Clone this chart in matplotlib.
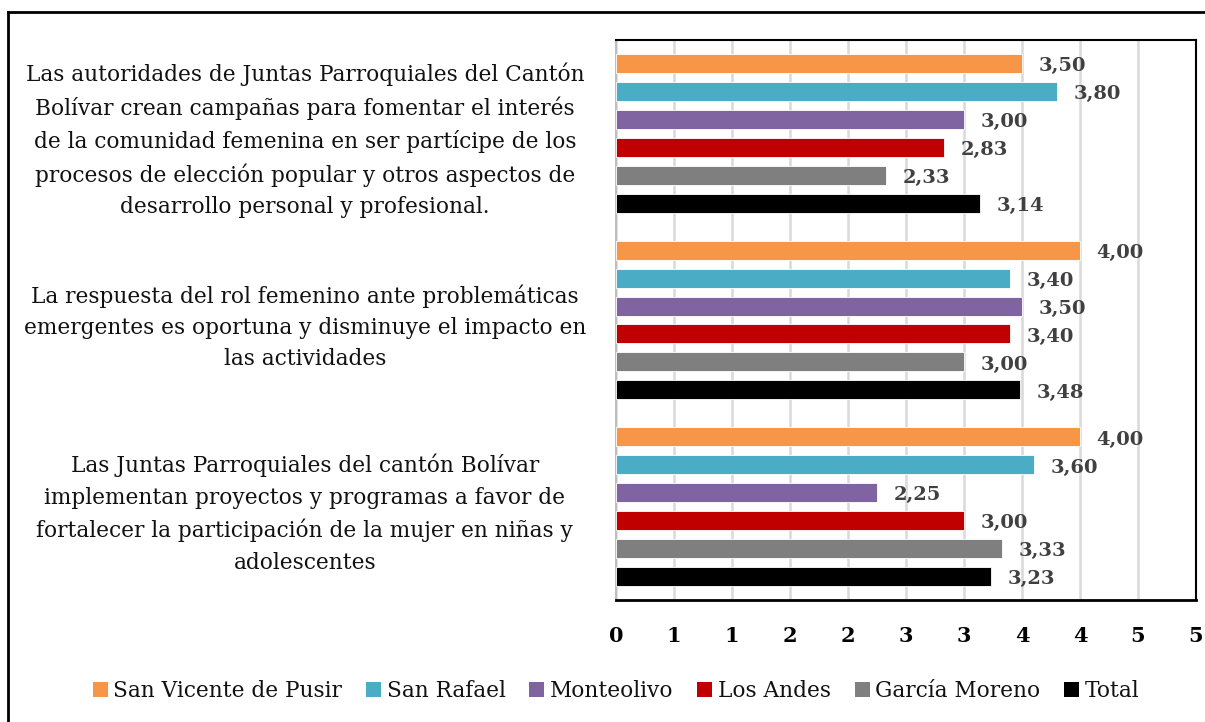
import matplotlib.pyplot as plt
from matplotlib.lines import Line2D
from matplotlib.patches import Patch
import numpy as np

# Data
categories = [
    "Las autoridades de Juntas Parroquiales del Cantón\nBolívar crean campañas para fomentar el interés\n"
    "de la comunidad femenina en ser partícipe de los\nprocesos de elección popular y otros aspectos de\n"
    "desarrollo personal y profesional.",
    "La respuesta del rol femenino ante problemáticas\nemergentes es oportuna y disminuye el impacto en\n"
    "las actividades",
    "Las Juntas Parroquiales del cantón Bolívar\nimplementan proyectos y programas a favor de\n"
    "fortalecer la participación de la mujer en niñas y\nadolescentes",
]
series = ["San Vicente de Pusir", "San Rafael", "Monteolivo", "Los Andes", "García Moreno", "Total"]
san_vicente = [3.50, 4.00, 4.00]
san_rafael = [3.80, 3.40, 3.60]
monteolivo = [3.00, 3.50, 2.25]
los_andes = [2.83, 3.40, 3.00]
garcia_moreno = [2.33, 3.00, 3.33]
total = [3.14, 3.48, 3.23]
values = [san_vicente, san_rafael, monteolivo, los_andes, garcia_moreno, total]
colors = ["#F79646", "#4BACC6", "#8064A2", "#C00000", "#7F7F7F", "#000000"]
xticks = np.arange(0, 5.01, 0.5)
xtick_labels = ["0", "1", "1", "2", "2", "3", "3", "4", "4", "5", "5"]

plt.rcParams['font.family'] = 'DejaVu Serif'

W, H = 1205, 722
fig = plt.figure(figsize=(W / 100, H / 100), dpi=100)
ax = fig.add_axes([616 / W, 1 - 600 / H, (1196 - 616) / W, 560 / H])

slot = 28 / 187
bar_h = 19 / 187
for j, (name, vals, c) in enumerate(zip(series, values, colors)):
    ys = np.arange(len(categories)) + (j - 2.5) * slot
    ax.barh(ys, vals, height=bar_h, color=c, edgecolor='white', linewidth=0.6, zorder=3)
    for y, v in zip(ys, vals):
        ax.annotate(f"{v:.2f}".replace('.', ','), xy=(v, y), xytext=(12, -2),
                    textcoords='offset points', va='center', ha='left',
                    fontsize=14, fontweight='bold', color='#404040')

ax.set_xlim(0, 5)
ax.set_ylim(2.5, -0.5)
ax.set_xticks(xticks)
ax.set_xticklabels(xtick_labels, fontsize=15, fontweight='bold')
ax.tick_params(axis='x', length=0, pad=19)
ax.grid(axis='x', color='#D9D9D9', linewidth=1.8, zorder=0)

ax.set_yticks(range(len(categories)))
ax.set_yticklabels(categories, fontsize=15.6, ha='center', linespacing=1.55, color='#111111')
ax.tick_params(axis='y', length=0, pad=224)

for s in ['top', 'right', 'bottom']:
    ax.spines[s].set_color('black')
    ax.spines[s].set_linewidth(1.5)
ax.spines['bottom'].set_linewidth(2)
ax.spines['left'].set_color('#BFBFBF')
ax.spines['left'].set_linewidth(1.5)

handles = [Patch(facecolor=c, label=n) for n, c in zip(series, colors)]
fig.legend(handles=handles, loc='center', bbox_to_anchor=(616 / W, 1 - 691 / H), ncol=6,
           frameon=False, fontsize=15.6, handlelength=0.7, handleheight=0.7,
           handletextpad=0.25, columnspacing=1.1, labelcolor='#111111')

# outer frame
fig.add_artist(Line2D([8 / W, 1], [1 - 12 / H] * 2, transform=fig.transFigure, color='black', lw=2))
fig.add_artist(Line2D([8 / W, 8 / W], [0, 1 - 12 / H], transform=fig.transFigure, color='black', lw=2))

fig.savefig('out.png', dpi=100)
